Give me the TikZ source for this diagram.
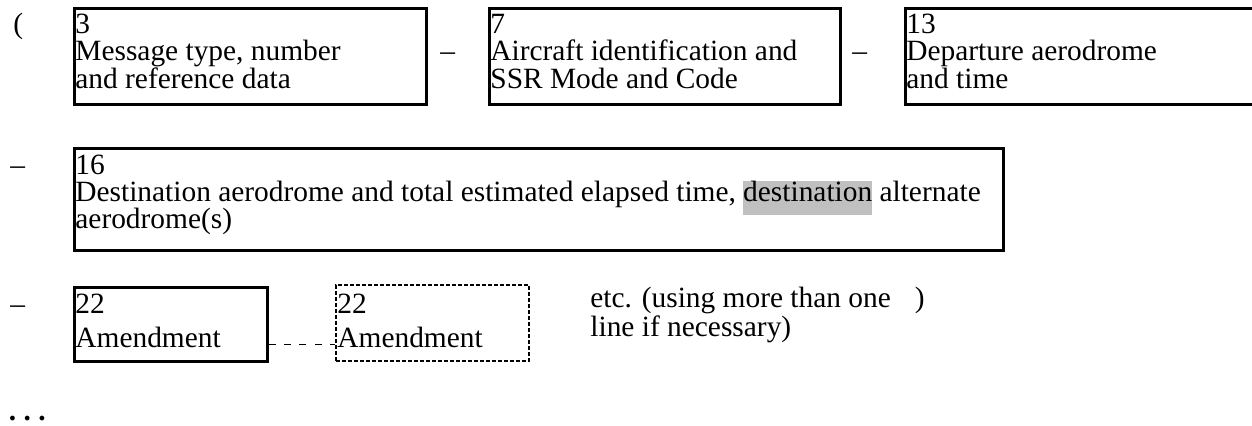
\documentclass[tikz,border=0pt]{standalone}
\usepackage{fontspec}
\setmainfont{Liberation Serif}
\definecolor{hlgray}{RGB}{192,192,192}
\newcommand\stk[2][13.75pt]{\vtop{\baselineskip=#1\relax\tabskip=0pt\halign{##\hfil\cr#2\crcr}}}
\newcommand\hlword[1]{\smash{{\setlength\fboxsep{0pt}\colorbox{hlgray}{\rule[-7pt]{0pt}{16.5pt}#1}}}}
\begin{document}
\begin{tikzpicture}[x=0.5pt,y=-0.5pt,
  every node/.style={font=\fontsize{14.7pt}{13.75pt}\selectfont},
  fieldbox/.style={draw, line width=1.3pt, inner sep=0pt, anchor=north west},
  optbox/.style={draw, line width=0.9pt, dash pattern=on 2pt off 1pt, inner sep=0pt, anchor=north west},
  txt/.style={inner sep=0pt, anchor=base west},
  conn/.style={line width=0.7pt, dash pattern=on 3.5pt off 4.2pt}]
\useasboundingbox (0,0) rectangle (1252,425);
\clip (0,0) rectangle (1252,425);
% boxes
\node[fieldbox, minimum width=176pt, minimum height=48pt] (b1) at (73,7) {};
\node[fieldbox, minimum width=175.5pt, minimum height=48pt] (b2) at (488,7) {};
\node[fieldbox, minimum width=180pt, minimum height=48pt] (b3) at (904,7) {};
\node[fieldbox, minimum width=464.5pt, minimum height=51pt] (b4) at (73,147) {};
\node[fieldbox, minimum width=96.5pt, minimum height=37pt] (b5) at (73,286) {};
\node[optbox, minimum width=96.5pt, minimum height=38pt] (b6) at (335,284) {};
% box texts
\node[txt] (t1) at (75,33) {\stk{3\cr Message type, number\cr and reference data}};
\node[txt] (t2) at (490,33) {\stk{7\cr Aircraft identification and\cr SSR Mode and Code}};
\node[txt] (t3) at (906,33) {\stk{13\cr Departure aerodrome\cr and time}};
\node[txt] (t4) at (75,174) {\stk[13.6pt]{16\cr Destination aerodrome and total estimated elapsed time, \hlword{destination} alternate\cr aerodrome(s)}};
\node[txt] (t5) at (75,313) {\stk[17pt]{22\cr Amendment}};
\node[txt] (t6) at (337,313) {\stk[17pt]{22\cr Amendment}};
\node[txt] (t7) at (590,307) {\stk[13pt]{etc. (using more than one\hspace{12pt})\cr line if necessary)}};
% separators
\node[txt] (p0) at (13,33) {(};
\node[txt] (d1) at (440,60) {--};
\node[txt] (d2) at (852,60) {--};
\node[txt] (d3) at (10,174) {--};
\node[txt] (d4) at (10,313) {--};
\node[txt] (dots) at (8.5,420) {\textbf{.\ .\ .}};
% connector
\draw[conn] ([yshift=-10pt]b5.east) -- ([yshift=-10pt]b5.east -| b6.west);
\end{tikzpicture}
\end{document}
